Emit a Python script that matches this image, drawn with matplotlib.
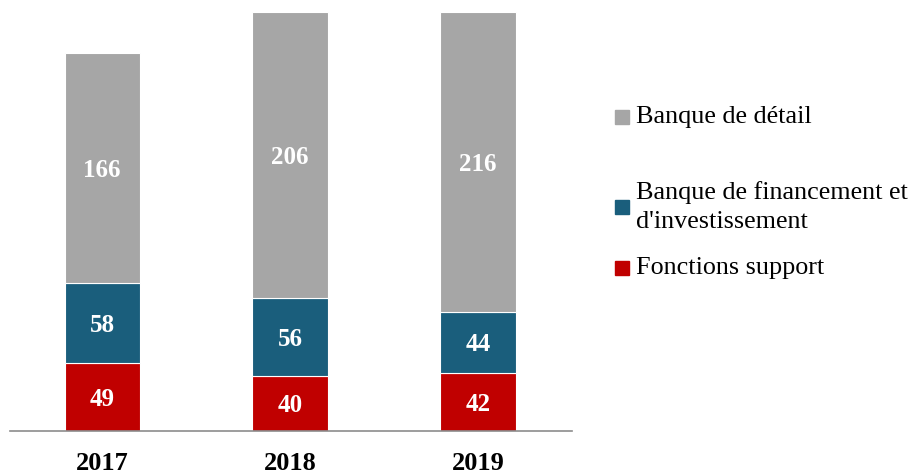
import matplotlib
matplotlib.use('Agg')
import matplotlib.pyplot as plt
from matplotlib.patches import Rectangle

years = ['2017', '2018', '2019']
support = [49, 40, 42]
bfi = [58, 56, 44]
detail = [166, 206, 216]

labels = ['Banque de détail', 'Banque de financement et\nd\'investissement', 'Fonctions support']
colors = ['#A6A6A6', '#1A5E7C', '#C00000']

plt.rcParams['font.family'] = ['Liberation Serif', 'DejaVu Serif']

fig = plt.figure(figsize=(9.17, 4.76), dpi=100)
ax = fig.add_axes([10 / 917, 1 - 431 / 476, 562 / 917, 431 / 476])

x = list(range(len(years)))
w = 0.4
b1 = ax.bar(x, support, w, color=colors[2], edgecolor='white', linewidth=0.8)
b2 = ax.bar(x, bfi, w, bottom=support, color=colors[1], edgecolor='white', linewidth=0.8)
bottom3 = [a + b for a, b in zip(support, bfi)]
b3 = ax.bar(x, detail, w, bottom=bottom3, color=colors[0], edgecolor='white', linewidth=0.8)

for vals, bots in [(support, [0] * 3), (bfi, support), (detail, bottom3)]:
    for i, (v, b) in enumerate(zip(vals, bots)):
        ax.text(x[i], b + v / 2, str(v), ha='center', va='center_baseline',
                color='white', fontsize=18, fontweight='bold')

ax.set_xlim(-0.49, 2.5)
ax.set_ylim(0, 311)
ax.set_xticks(x)
ax.set_xticklabels(years, fontsize=19, fontweight='bold')
ax.tick_params(axis='x', length=0, pad=15)
ax.set_yticks([])
for s in ['top', 'right', 'left']:
    ax.spines[s].set_visible(False)
ax.spines['bottom'].set_color('#8C8C8C')
ax.spines['bottom'].set_linewidth(1.2)

# legend drawn by hand (uneven spacing in the original)
leg_y = [117, 207, 268]
for lab, col, yy in zip(labels, colors, leg_y):
    fig.patches.append(Rectangle((615 / 917, 1 - (yy + 7) / 476), 14 / 917, 14 / 476,
                                 transform=fig.transFigure, color=col))
    fig.text(636 / 917, 1 - yy / 476, lab, ha='left', va='center',
             fontsize=18.8, linespacing=1.4)

fig.savefig('out.png', dpi=100)
